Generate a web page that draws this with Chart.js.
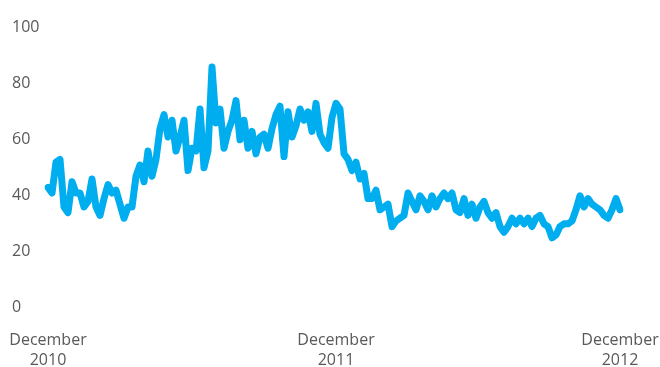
<!DOCTYPE html>
<html>
<head>
<meta charset="utf-8">
<script src="https://cdn.jsdelivr.net/npm/chart.js@4"></script>
<style>
  html, body { margin: 0; padding: 0; background: #fff; }
  #wrap { width: 660px; height: 367px; }
</style>
</head>
<body>
<div id="wrap"><canvas id="myChart" width="660" height="367"></canvas></div>
<script>
// values, roughly one every few trading days
const values = [
  42, 40, 51, 52, 35, 33, 44, 40, 40, 35, 37, 45, 35, 32, 38, 43, 40, 41, 36, 31,
  35, 35, 46, 50, 44, 55, 46, 52, 63, 68, 60, 66, 55, 60, 66, 48, 56, 55, 70, 49,
  55, 85, 65, 70, 56, 62, 66, 73, 59, 66, 56, 62, 54, 60, 61, 56, 63, 68, 71, 53,
  69, 60, 64, 70, 66, 69, 62, 72, 61, 58, 56, 67, 72, 70, 54, 52, 48, 51, 45, 47,
  38, 38, 41, 34, 35, 36, 28, 30, 31, 32, 40, 37, 34, 39, 37, 34, 39, 35, 38, 40,
  38, 40, 34, 33, 38, 32, 36, 31, 35, 37, 33, 31, 33, 28, 26, 28, 31, 29, 31, 29,
  31, 28, 31, 32, 29, 28, 24, 25, 28, 29, 29, 30, 34, 39, 35, 38, 36, 35, 34, 32,
  31, 34, 38, 34
];
// where the date labels sit (index into values) and what they say
const tickIndexes = [0, 72, 143];
const tickLabels = [['December', '2010'], ['December', '2011'], ['December', '2012']];
const yTicks = [0, 20, 40, 60, 80, 100];

const categories = values.map((v, i) => i);

const ctx = document.getElementById('myChart').getContext('2d');
const myChart = new Chart(ctx, {
    type: 'line',
    data: {
        labels: categories,
        datasets: [{
            data: values,
            borderColor: '#00AEEF',
            borderWidth: 7,
            pointRadius: 0,
            tension: 0,
            borderJoinStyle: 'round',
            borderCapStyle: 'round'
        }]
    },
    options: {
        responsive: false,
        animation: false,
        layout: { padding: { left: 12, top: 25, right: 40, bottom: 0 } },
        plugins: { legend: { display: false }, tooltip: { enabled: false } },
        scales: {
            x: {
                offset: false,
                grid: { display: false, drawTicks: false },
                border: { display: false },
                ticks: {
                    autoSkip: false,
                    maxRotation: 0,
                    padding: 25,
                    color: '#595959',
                    font: { family: 'Open Sans', size: 16, lineHeight: 1.25 },
                    callback: function (value, index) {
                        const k = tickIndexes.indexOf(index);
                        return k >= 0 ? tickLabels[k] : null;
                    }
                },
                afterFit: function (scale) {
                    scale.height = 62;
                    scale.paddingLeft = 0;
                    scale.paddingRight = 0;
                }
            },
            y: {
                min: 0,
                max: 100,
                grid: { display: false, drawTicks: false },
                border: { display: false },
                afterBuildTicks: function (scale) {
                    scale.ticks = yTicks.map(v => ({ value: v }));
                },
                ticks: {
                    crossAlign: 'far',
                    padding: 0,
                    labelOffset: 2,
                    color: '#595959',
                    font: { family: 'Open Sans', size: 16 }
                },
                afterFit: function (scale) {
                    scale.width = 36;
                    scale.paddingTop = 0;
                    scale.paddingBottom = 0;
                }
            }
        }
    }
});
</script>
</body>
</html>
